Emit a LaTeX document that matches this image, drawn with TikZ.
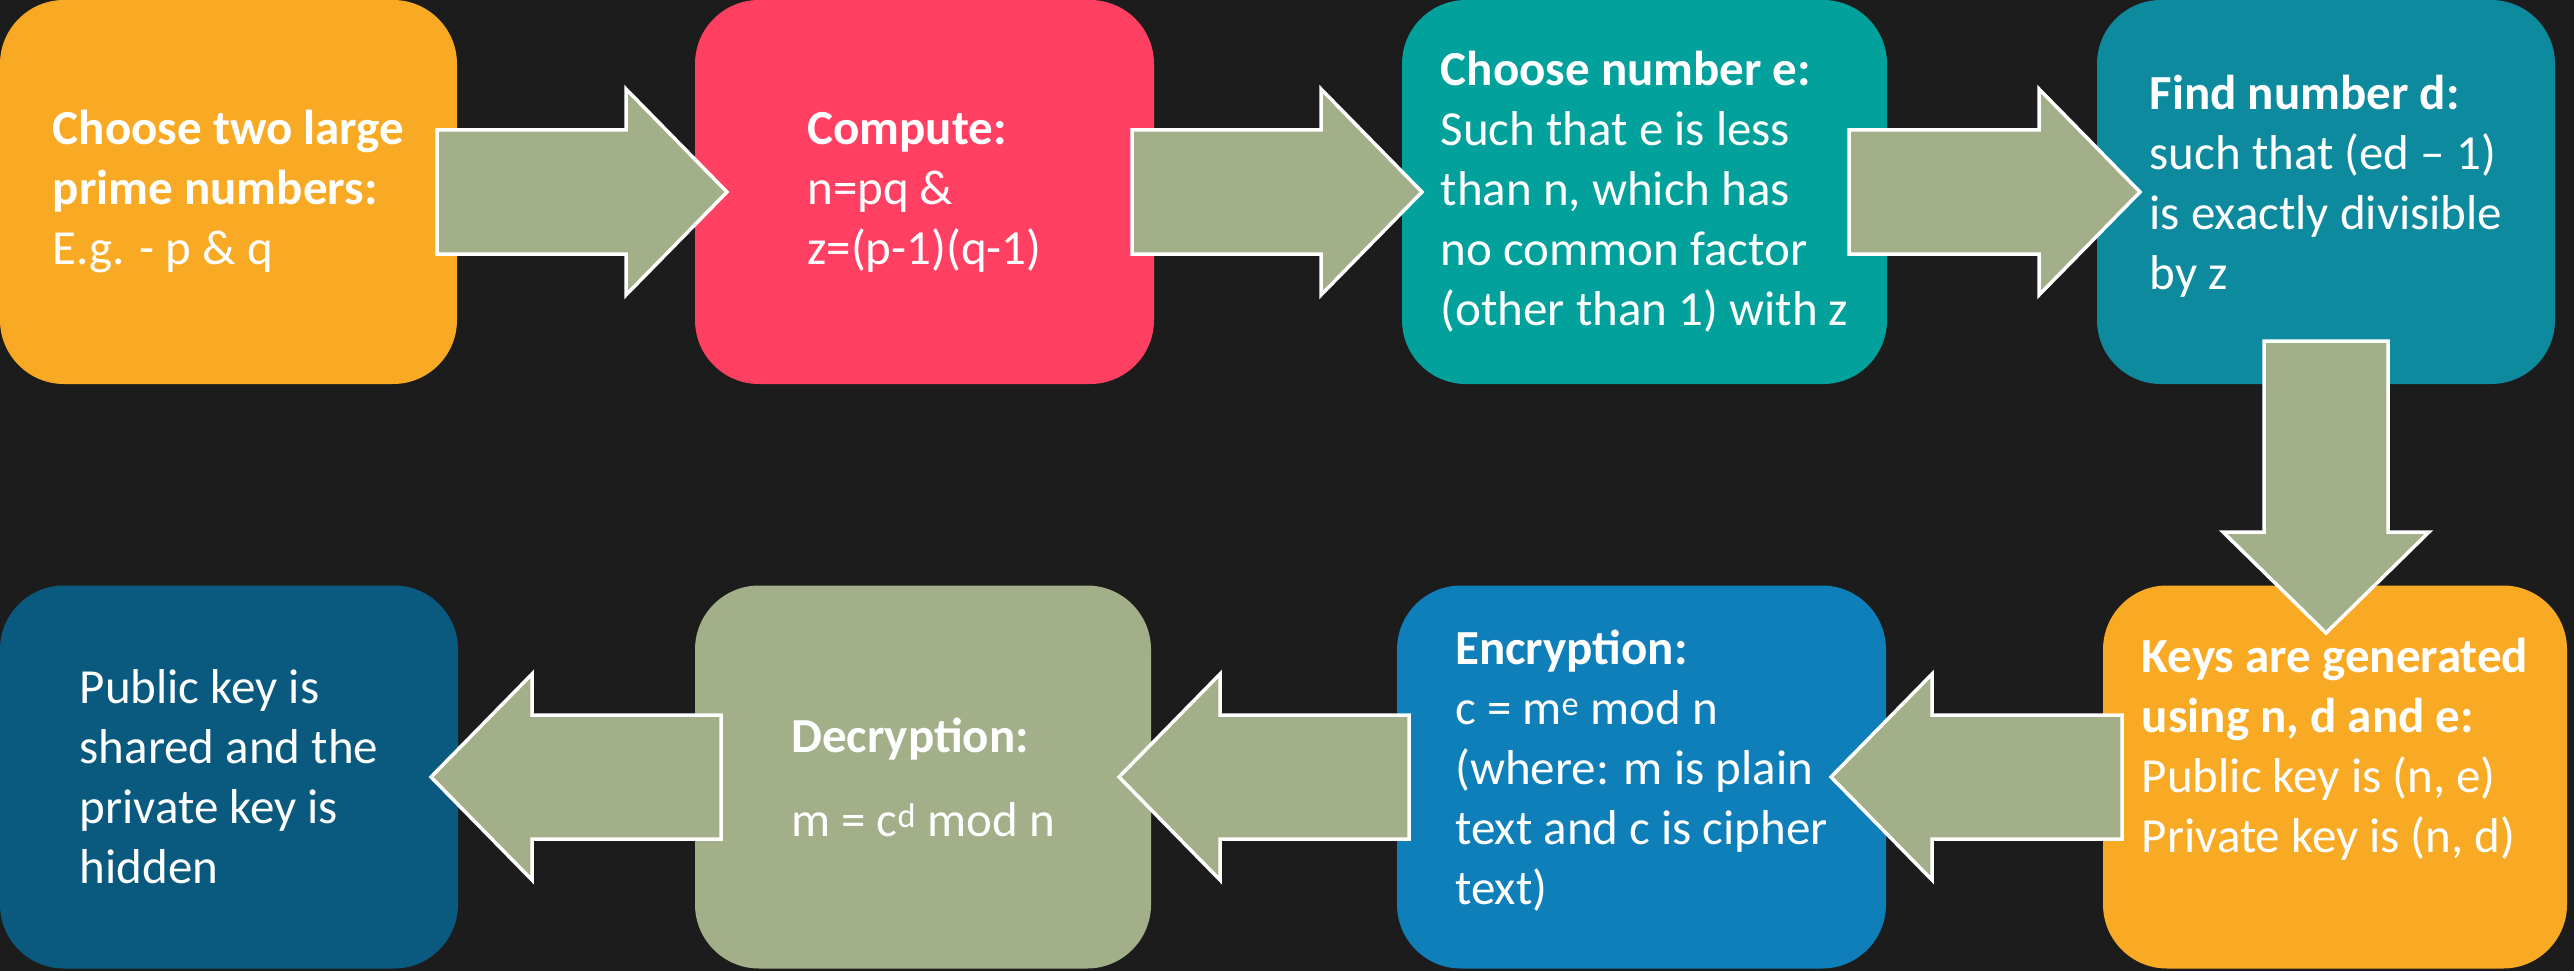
\documentclass[tikz,border=0pt]{standalone}
\usepackage{fontspec}
\setmainfont{Carlito}
\usetikzlibrary{calc}
\definecolor{bg}{HTML}{1C1C1C}
\definecolor{corange}{HTML}{F8AA25}
\definecolor{cred}{HTML}{FF4062}
\definecolor{cteal}{HTML}{03A19C}
\definecolor{cdteal}{HTML}{0E8A9E}
\definecolor{cblue}{HTML}{0E7FB9}
\definecolor{cdblue}{HTML}{0A5A80}
\definecolor{csage}{HTML}{A3AF88}
\newcommand\blockarrow[2]{%
  \coordinate (hb) at ($(#2)!101pt!(#1)$);
  \draw[barrow] ($(#1)!62pt!90:(#2)$) -- ($(hb)!62pt!90:(#2)$) -- ($(hb)!103pt!90:(#2)$) -- (#2)
    -- ($(hb)!103pt!-90:(#2)$) -- ($(hb)!62pt!-90:(#2)$) -- ($(#1)!62pt!-90:(#2)$) -- cycle;}
\begin{document}
\begin{tikzpicture}[x=1pt,y=-1pt,
  box/.style={rounded corners=64pt, inner sep=0pt, outer sep=0pt},
  toprow/.style={box, minimum height=384pt},
  botrow/.style={box, minimum height=383pt},
  txt/.style={text=white, align=left, font=\fontsize{49}{60}\selectfont, inner sep=0pt},
  barrow/.style={fill=csage, draw=white, line width=3.5pt, line join=miter}]
\fill[bg] (0,0) rectangle (2574,971);
\useasboundingbox (0,0) rectangle (2574,971);
% boxes
\node[toprow, fill=corange, minimum width=457pt] (b1) at (228.5,192) {};
\node[toprow, fill=cred, minimum width=459pt] (b2) at (924.5,192) {};
\node[toprow, fill=cteal, minimum width=485pt] (b3) at (1644.5,192) {};
\node[toprow, fill=cdteal, minimum width=458pt] (b4) at (2326,192) {};
\node[botrow, fill=corange, minimum width=464pt] (b5) at (2335,777) {};
\node[botrow, fill=cblue, minimum width=489pt] (b6) at (1641.5,777) {};
\node[botrow, fill=csage, minimum width=456pt] (b7) at (923,777) {};
\node[botrow, fill=cdblue, minimum width=458pt] (b8) at (229,777) {};
% arrow end points
\coordinate (a1s) at ($(b1.east)+(-20,0)$);
\coordinate (a1e) at ($(b2.west)+(32,0)$);
\coordinate (a2s) at ($(b2.east)+(-22,0)$);
\coordinate (a2e) at ($(b3.west)+(20,0)$);
\coordinate (a3s) at ($(b3.east)+(-38,0)$);
\coordinate (a3e) at ($(b4.west)+(43,0)$);
\coordinate (a4s) at ($(b4.south)+(0,-43)$);
\coordinate (a4e) at ($(b5.north -| b4.south)+(0,47.5)$);
\coordinate (a5s) at ($(b5.west)+(19,0)$);
\coordinate (a5e) at ($(b6.east)+(-55,0)$);
\coordinate (a6s) at ($(b6.west)+(12,0)$);
\coordinate (a6e) at ($(b7.east)+(-32,0)$);
\coordinate (a7s) at ($(b7.west)+(26,0)$);
\coordinate (a7e) at ($(b8.east)+(-27,0)$);
\blockarrow{a1s}{a1e}
\blockarrow{a2s}{a2e}
\blockarrow{a3s}{a3e}
\blockarrow{a4s}{a4e}
\blockarrow{a5s}{a5e}
\blockarrow{a6s}{a6e}
\blockarrow{a7s}{a7e}
% texts
\node[txt] (t1) at (b1) {\textbf{Choose two large}\\\textbf{prime numbers:}\\E.g. - p \& q};
\node[txt] (t2) at (b2) {\textbf{Compute:}\\n=pq \&\\z=(p-1)(q-1)};
\node[txt] (t3) at (b3) {\textbf{Choose number e:}\\Such that e is less\\than n, which has\\no common factor\\(other than 1) with z};
\node[txt] (t4) at ($(b4)+(0,-6)$) {\textbf{Find number d:}\\such that (ed – 1)\\is exactly divisible\\by z};
\node[txt] (t5) at ($(b5)+(0,-28)$) {\textbf{Keys are generated}\\\textbf{using n, d and e:}\\Public key is (n, e)\\Private key is (n, d)};
\node[txt] (t6) at ($(b6)+(0,-6)$) {\textbf{Encryption:}\\c = m\textsuperscript{e} mod n\\(where: m is plain\\text and c is cipher\\text)};
\node[txt] (t7) at (b7) {\textbf{Decryption:}\\[24pt]m = c\textsuperscript{d} mod n};
\node[txt] (t8) at (b8) {Public key is\\shared and the\\private key is\\hidden};
\end{tikzpicture}
\end{document}
